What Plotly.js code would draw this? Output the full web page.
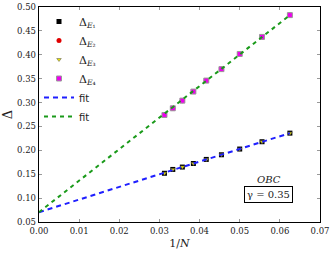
<!DOCTYPE html>
<html>
<head>
<meta charset="utf-8">
<script src="https://cdn.plot.ly/plotly-3.0.1.min.js"></script>
<style>html,body{margin:0;padding:0;background:#fff;}#chart{width:332px;height:253px;}</style>
</head>
<body>
<div id="chart"></div>
<script>
// 1/N values (N = 32, 30, 28, 26, 24, 22, 20, 18, 16)
var invN = [0.03125, 0.03333, 0.03571, 0.03846, 0.04167, 0.04545, 0.05, 0.05556, 0.0625];
var gapE1 = [0.152, 0.160, 0.165, 0.1725, 0.181, 0.1907, 0.2027, 0.218, 0.236];
var gapE2 = [0.274, 0.288, 0.304, 0.323, 0.346, 0.370, 0.4017, 0.4374, 0.483];
var gapE3 = [0.152, 0.160, 0.165, 0.1725, 0.181, 0.1907, 0.2027, 0.218, 0.236];
var gapE4 = [0.274, 0.288, 0.304, 0.323, 0.346, 0.370, 0.4017, 0.4374, 0.483];
var fitX = [0, 0.0625];
var fitLow = [0.0705, 0.236];
var fitHigh = [0.0705, 0.483];
var names = ['Δ<sub><i>E</i>₁</sub>', 'Δ<sub><i>E</i>₂</sub>', 'Δ<sub><i>E</i>₃</sub>', 'Δ<sub><i>E</i>₄</sub>',
             '<span style="font-family:DejaVu Sans;font-size:10px">fit</span>', '<span style="font-family:DejaVu Sans;font-size:10px">fit</span>'];
var xTicks = [0, 0.01, 0.02, 0.03, 0.04, 0.05, 0.06, 0.07];
var yTicks = [0.05, 0.10, 0.15, 0.20, 0.25, 0.30, 0.35, 0.40, 0.45, 0.50];

var traces = [
  {x: invN, y: gapE1, name: names[0], mode: 'markers', type: 'scatter',
   marker: {symbol: 'square', size: 5, color: '#000000', line: {width: 0}}},
  {x: invN, y: gapE2, name: names[1], mode: 'markers', type: 'scatter',
   marker: {symbol: 'circle', size: 5, color: '#e00000', line: {width: 0}}},
  {x: invN, y: gapE3, name: names[2], mode: 'markers', type: 'scatter',
   marker: {symbol: 'triangle-down', size: 4, color: '#e8e000', line: {width: 0.5, color: '#555'}}},
  {x: invN, y: gapE4, name: names[3], mode: 'markers', type: 'scatter',
   marker: {symbol: 'square', size: 5, color: '#ee00ee', line: {width: 1, color: '#9a9a9a'}}},
  {x: fitX, y: fitLow, name: names[4], mode: 'lines', type: 'scatter',
   line: {color: '#1f1fff', width: 2, dash: '5px,4px'}},
  {x: fitX, y: fitHigh, name: names[5], mode: 'lines', type: 'scatter',
   line: {color: '#1a9a1a', width: 2, dash: '4px,4px'}}
];

var tickFont = {family: 'DejaVu Serif, Liberation Serif, serif', size: 8.5, color: '#222'};
var axisCommon = {
  showgrid: false, zeroline: false, showline: true, linecolor: '#000', linewidth: 1.3,
  mirror: 'ticks', ticks: 'inside', ticklen: 3, tickcolor: '#999', tickwidth: 1,
  tickfont: tickFont
};

var layout = {
  width: 332, height: 253,
  margin: {l: 39, r: 12, t: 7, b: 31},
  paper_bgcolor: '#fff', plot_bgcolor: '#fff',
  showlegend: true,
  legend: {x: 0.0, y: 1.0, xanchor: 'left', yanchor: 'top', bgcolor: 'rgba(0,0,0,0)',
           font: {family: 'DejaVu Serif, serif', size: 11, color: '#222'},
           itemwidth: 30, tracegroupgap: 0},
  xaxis: Object.assign({}, axisCommon, {
    range: [0, 0.07], tickvals: xTicks, ticktext: xTicks.map(function(v){return v.toFixed(2);}),
    title: {text: '1/<i>N</i>', font: {family: 'DejaVu Serif, serif', size: 11, color: '#222'}, standoff: 4}
  }),
  yaxis: Object.assign({}, axisCommon, {
    range: [0.05, 0.50], tickvals: yTicks, ticktext: yTicks.map(function(v){return v.toFixed(2);}),
    title: {text: 'Δ', font: {family: 'DejaVu Serif, serif', size: 13, color: '#222'}, standoff: 4}
  }),
  annotations: [
    {x: 0.0572, y: 0.140, xref: 'x', yref: 'y', text: '<i>OBC</i>', showarrow: false,
     font: {family: 'DejaVu Serif, serif', size: 10, color: '#222'}},
    {x: 0.0572, y: 0.1067, xref: 'x', yref: 'y', text: 'γ = 0.35', showarrow: false,
     font: {family: 'DejaVu Serif, serif', size: 10, color: '#222'},
     bordercolor: '#000', borderwidth: 1, borderpad: 2, bgcolor: '#fff'}
  ]
};

Plotly.newPlot('chart', traces, layout, {displayModeBar: false, staticPlot: true});
</script>
</body>
</html>
